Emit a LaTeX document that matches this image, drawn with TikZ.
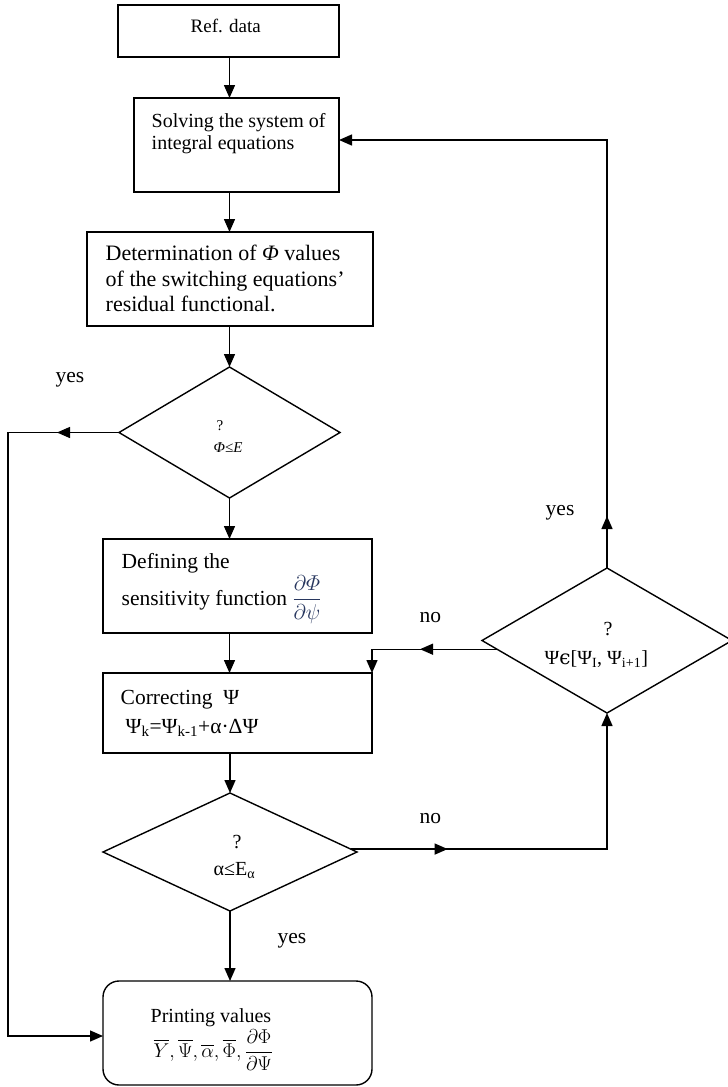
\RequirePackage{fix-cm}
\documentclass[tikz,border=0pt]{standalone}
\usepackage{amsmath}
\usepackage{fontspec}
\setmainfont{Liberation Serif}
\newfontfamily\dejavu{DejaVu Serif}
\usetikzlibrary{arrows.meta,shapes.geometric,calc}
\definecolor{fraccol}{RGB}{40,55,95}
\begin{document}
\begin{tikzpicture}[x=1pt,y=-1pt,line width=1.4pt,
  boxnode/.style={draw,rectangle,inner sep=0pt,outer sep=0pt},
  dianode/.style={draw,diamond,inner sep=0pt,outer sep=0pt},
  arr/.style={-{Triangle[length=13pt,width=11pt]}},
  txt/.style={inner sep=0pt,anchor=base west},
  ctxt/.style={inner sep=0pt,anchor=base},
  fa/.style={font=\fontsize{19}{22}\selectfont},
  fb/.style={font=\fontsize{20}{23}\selectfont},
  fc/.style={font=\fontsize{22}{25}\selectfont},
  fd/.style={font=\fontsize{21.5}{25}\selectfont},
  fe/.style={font=\fontsize{15}{18}\selectfont}]
\useasboundingbox (0,0) rectangle (728,1087);

% boxes and diamonds
\node[boxnode,minimum width=221,minimum height=52] (b1) at (228.5,31) {};
\node[boxnode,minimum width=205,minimum height=94] (b2) at (236.5,145) {};
\node[boxnode,minimum width=286,minimum height=94] (b3) at (230,279) {};
\node[dianode,minimum width=221,minimum height=131] (d1) at (229.5,432.5) {};
\node[boxnode,minimum width=269,minimum height=94] (b4) at (237.5,586) {};
\node[boxnode,minimum width=269,minimum height=80] (b5) at (237.5,713) {};
\node[dianode,minimum width=254,minimum height=118] (d3) at (230,852) {};
\node[dianode,minimum width=250,minimum height=145] (d2) at (607,640.5) {};
\node[boxnode,rounded corners=16pt,minimum width=269,minimum height=104] (pb) at (237.5,1033) {};

% texts
\node[txt,fa] (t1) at (190,32) {Ref. data};
\node[txt,fb] (t2a) at (151,127) {Solving the system of};
\node[txt,fb] (t2b) at (151,149) {integral equations};
\node[txt,fc] (t3a) at (105,260) {Determination of \textit{Φ} values};
\node[txt,fc] (t3b) at (105,286) {of the switching equations’};
\node[txt,fc] (t3c) at (105,311) {residual functional.};
\node[txt,fd] (t4a) at (121,568) {Defining the};
\node[txt,fd] (t4b) at (121,605) {sensitivity function {\color{fraccol}$\dfrac{\partial\varPhi}{\partial\psi}$}};
\node[txt,fd] (t5a) at (120,704) {Correcting\ \ Ψ};
\node[txt,fd] (t5b) at (125,733) {Ψ\textsubscript{k}=Ψ\textsubscript{k-1}+α·ΔΨ};
\node[txt,fe] (q1) at (216,430) {?};
\node[txt,fe] (c1) at (213,452) {\textit{Φ≤E}};
\node[ctxt,fb] (q2) at (608,635) {?};
\node[txt,fb] (c2) at (544,664) {Ψ{\dejavu ϵ}[Ψ\textsubscript{I}, Ψ\textsubscript{i+1}]};
\node[ctxt,fb] (q3) at (237,848) {?};
\node[txt,fb] (c3) at (213,875) {α≤E\textsubscript{α}};
\node[txt,fb] (t6a) at (150,1022) {Printing values};
\node[txt,fb] (t6b) at (153,1057) {$\overline{Y},\overline{\Psi},\overline{\alpha},\overline{\Phi},\dfrac{\partial\Phi}{\partial\Psi}$};

% labels
\node[txt,fd] (y1) at (55,382) {yes};
\node[txt,fd] (y2) at (545,515) {yes};
\node[txt,fd] (n1) at (419,622) {no};
\node[txt,fd] (n2) at (419,823) {no};
\node[txt,fd] (y3) at (277,943) {yes};

% main vertical connectors
\draw[arr] (b1.south -| d1.north) -- (b2.north -| d1.north);
\draw[arr] (b2.south -| d1.north) -- (b3.north -| d1.north);
\draw[arr] (b3.south -| d1.north) -- (d1.north);
\draw[arr] (d1.south) -- (b4.north -| d1.south);
\draw[arr] (b4.south -| d1.south) -- (b5.north -| d1.south);
\draw[arr] (b5.south -| d3.north) -- (d3.north);
\draw[arr] (d3.south) -- (pb.north -| d3.south);

% left yes loop
\coordinate (L1) at ($(d1.west)+(-111,0)$);
\coordinate (pbin) at ($(pb.west)+(0,3)$);
\draw[arr] (d1.west) -- (L1) |- (pbin);
\draw[arr] (d1.west) -- ++(-62,0);

% top yes loop
\coordinate (T1) at ($(b2.east)+(0,-5)$);
\draw[arr] (d2.north) |- (T1);
\draw[arr] (d2.north) -- ++(0,-52);

% no from d2
\coordinate (N1) at ($(d2.west)!0.12!(d2.south)$);
\draw[arr] (N1) -- (N1 -| b5.north east) -- (b5.north east);
\draw[arr] (N1) -- ++(-77,0);

% no from d3
\coordinate (N2) at ($(d3.east)!0.05!(d3.north)$);
\draw[arr] (N2) -| (d2.south);
\draw[arr] (N2) -- ++(97,0);
\end{tikzpicture}
\end{document}
